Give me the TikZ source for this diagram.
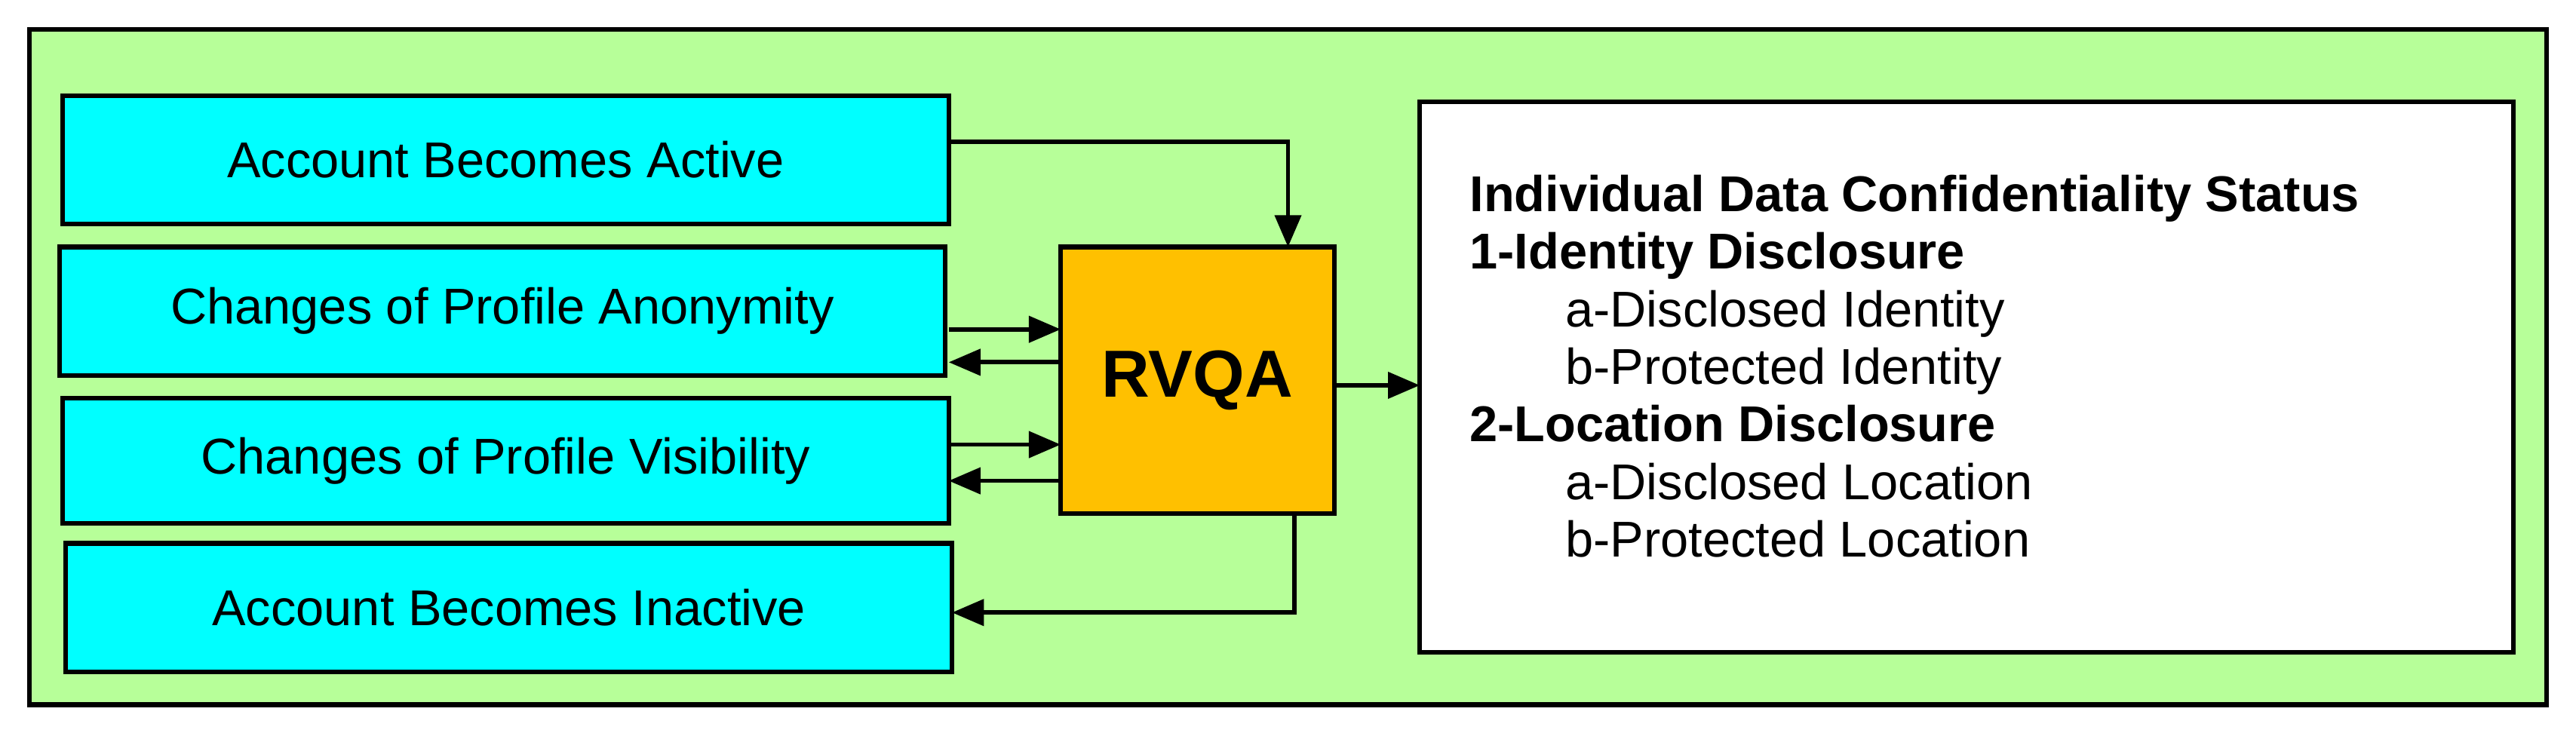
\documentclass[tikz,border=0pt]{standalone}
\usepackage{fontspec}
\setmainfont{Liberation Sans}
\usetikzlibrary{arrows.meta}
\definecolor{cy}{RGB}{0,255,255}
\definecolor{gr}{RGB}{183,255,153}
\definecolor{og}{RGB}{255,192,0}
\begin{document}
\begin{tikzpicture}[x=0.02cm,y=-0.02cm,
 box/.style={draw,line width=1.6pt,fill=cy,font=\fontsize{17.4}{20}\selectfont},
 arr/.style={line width=1.5pt,-{Triangle[length=11pt,width=9pt]}}]
\useasboundingbox (0,0) rectangle (1564,445);
\fill[white] (0,0) rectangle (1564,445);
\draw[line width=1.6pt,fill=gr] (18,18) rectangle (1546,428);
\draw[box] (38,58) rectangle node (t1) {Account Becomes Active} (576,136);
\draw[box] (36,150) rectangle node (t2) {Changes of Profile Anonymity} (574,228);
\draw[box] (38,242) rectangle node (t3) {Changes of Profile Visibility} (576,318);
\draw[box] (40,330) rectangle node (t4) {Account Becomes Inactive} (578,408);
\draw[line width=1.6pt,fill=og] (644,150) rectangle node (r) {\fontsize{23}{26}\selectfont\bfseries RVQA} (810,312);
\draw[line width=1.6pt,fill=white] (862,62) rectangle (1526,396);
\node[anchor=north west,align=left,font=\fontsize{17.4}{19.9}\selectfont,inner sep=0] (w) at (892,106) {%
\textbf{Individual Data Confidentiality Status}\\
\textbf{1-Identity Disclosure}\\
\hspace*{1.9em}a-Disclosed Identity\\
\hspace*{1.9em}b-Protected Identity\\
\textbf{2-Location Disclosure}\\
\hspace*{1.9em}a-Disclosed Location\\
\hspace*{1.9em}b-Protected Location};
\coordinate (c1) at (782,86);
\coordinate (c4) at (786,372);
\draw[arr] (576,86) -- (c1) -- (782,150);
\draw[arr] (576,200) -- (644,200);
\draw[arr] (644,220) -- (576,220);
\draw[arr] (576,270) -- (644,270);
\draw[arr] (644,292) -- (576,292);
\draw[arr] (786,312) -- (c4) -- (578,372);
\draw[arr] (810,234) -- (862,234);
\end{tikzpicture}
\end{document}
